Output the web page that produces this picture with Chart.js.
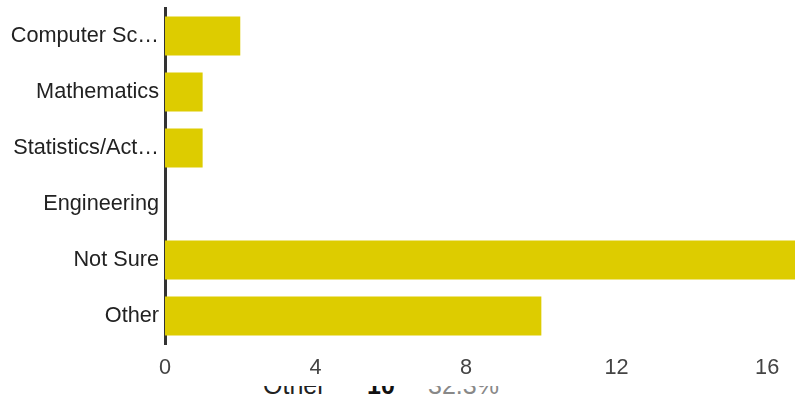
<!DOCTYPE html>
<html>
<head>
<meta charset="utf-8">
<script src="https://cdn.jsdelivr.net/npm/chart.js@4"></script>
<style>
  html, body { margin: 0; padding: 0; background: #fff; overflow: hidden; }
  #wrap { position: relative; width: 795px; height: 400px; }
  #myChart { position: absolute; left: 0; top: 0; background: #fff; z-index: 1; display: block; }
  #behind { position: absolute; left: 0; top: 371px; width: 795px; font-family: "Liberation Sans", Arial, sans-serif; font-size: 25px; line-height: 28px; z-index: 0; white-space: nowrap; }
  #behind span { position: absolute; top: 0; }
</style>
</head>
<body>
<div id="wrap">
  <div id="behind">
    <span style="left:263px;color:#222">Other</span>
    <span style="left:367px;color:#111;font-weight:bold">10</span>
    <span style="left:428px;color:#888">32.3%</span>
  </div>
  <canvas id="myChart" width="795" height="386"></canvas>
</div>
<script>
const categories = [
    'Computer Sc…',
    'Mathematics',
    'Statistics/Act…',
    'Engineering',
    'Not Sure',
    'Other'
]
const counts = [2, 1, 1, 0, 17, 10]
const xTicks = [0, 4, 8, 12, 16]

const chartContainer = (labels, values) => {

    const data = {
        labels: labels,
        datasets: [{
            label: '',
            backgroundColor: '#ddcc00',
            borderWidth: 0,
            data: values,
            barPercentage: 1,
            categoryPercentage: 0.7
        }]
    };

    const config = {
        type: 'bar',
        data: data,
        options: {
            indexAxis: 'y',
            responsive: false,
            animation: false,
            layout: {
                padding: { top: 8, bottom: 7, left: 0, right: 0 }
            },
            plugins: {
                legend: { display: false },
                tooltip: { enabled: false }
            },
            scales: {
                y: {
                    grid: { display: false, drawTicks: false },
                    border: { display: true, color: '#333333', width: 3 },
                    afterFit: (scale) => {
                        scale.width = 165
                        scale.paddingTop = 0
                        scale.paddingBottom = 0
                    },
                    ticks: {
                        color: '#222222',
                        padding: 6,
                        autoSkip: false,
                        font: { family: 'Liberation Sans', size: 21.7 }
                    }
                },
                x: {
                    min: 0,
                    max: 16.74,
                    grid: { display: false, drawTicks: false },
                    border: { display: false },
                    afterBuildTicks: (scale) => {
                        scale.ticks = xTicks.map(v => ({ value: v }))
                    },
                    afterFit: (scale) => {
                        scale.height = 35
                    },
                    ticks: {
                        color: '#444444',
                        padding: 11,
                        font: { family: 'Liberation Sans', size: 21.7 }
                    }
                }
            }
        }
    };

    return config
}

const myChart = new Chart(
    document.getElementById("myChart"),
    chartContainer(categories, counts)
);
</script>
</body>
</html>
